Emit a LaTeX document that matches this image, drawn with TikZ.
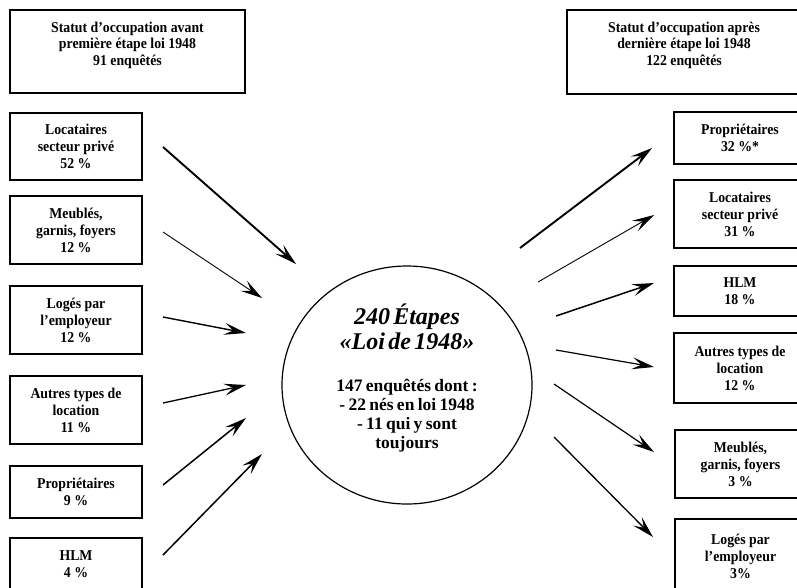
\documentclass[tikz,border=0pt]{standalone}
\usepackage{fontspec}
\setmainfont{Liberation Serif}
\newfontfamily\boxfont[FakeStretch=0.92,Ligatures=TeX]{Liberation Serif}
\usetikzlibrary{shapes.geometric,arrows.meta}
\begin{document}
\begin{tikzpicture}[x=1pt,y=-1pt,
  box/.style={draw, line width=1.1pt, inner sep=0pt, align=center,
    font=\boxfont\bfseries\fontsize{15}{17}\selectfont},
  boxtext/.style={inner sep=0pt, align=center,
    font=\boxfont\bfseries\fontsize{15}{16.5}\selectfont},
  arr/.style={-{Stealth[length=22pt,width=12pt,inset=9pt]}, line width=1.3pt},
  thickarr/.style={arr, line width=1.9pt},
  thinarr/.style={arr, line width=0.9pt}]
\clip (0,0) rectangle (797,587);

% header boxes
\node[box, minimum width=235pt, minimum height=83pt] (L0) at (127.5,51.5) {};
\node[boxtext, anchor=north] (L0t) at (127.5,21.5) {Statut d'occupation avant\\première étape loi 1948\\91 enquêtés};
\node[box, minimum width=238pt, minimum height=84pt] (R0) at (686,52) {};
\node[boxtext, anchor=north] (R0t) at (684,21.5) {Statut d'occupation après\\dernière étape loi 1948\\122 enquêtés};

% left boxes
\node[box, minimum width=132pt, minimum height=67pt] (L1) at (76,146.5) {Locataires\\secteur privé\\52 \%};
\node[box, minimum width=132pt, minimum height=68pt] (L2) at (76,230) {Meublés,\\garnis, foyers\\12 \%};
\node[box, minimum width=132pt, minimum height=68pt] (L3) at (76,320) {Logés par\\l'employeur\\12 \%};
\node[box, minimum width=132pt, minimum height=68pt] (L4) at (76,410) {Autres types de\\location\\11 \%};
\node[box, minimum width=132pt, minimum height=52pt] (L5) at (76,492) {Propriétaires\\9 \%};
\node[box, minimum width=132pt, minimum height=52pt] (L6) at (76,564) {HLM\\4 \%};

% right boxes
\node[box, minimum width=132pt, minimum height=52pt] (R1) at (740,138) {Propriétaires\\32 \%*};
\node[box, minimum width=132pt, minimum height=68pt] (R2) at (740,214) {Locataires\\secteur privé\\31 \%};
\node[box, minimum width=132pt, minimum height=50pt] (R3) at (740,291) {HLM\\18 \%};
\node[box, minimum width=132pt, minimum height=70pt] (R4) at (740,368) {Autres types de\\location\\12 \%};
\node[box, minimum width=131pt, minimum height=68pt] (R5) at (740.5,464) {Meublés,\\garnis, foyers\\3 \%};
\node[box, minimum width=131pt, minimum height=74pt] (R6) at (740.5,556) {Logés par\\l'employeur\\3\%};

% centre
\node[ellipse, draw, line width=1.2pt, minimum width=250pt, minimum height=238pt, inner sep=0pt] (C) at (407,385) {};
\node[inner sep=0pt, text width=220pt, align=center, anchor=north, font=\bfseries] (Ct) at (407,304)
 {\fontsize{24}{25}\selectfont\itshape 240 Étapes\\«Loi de 1948»\par
  \vspace{23pt}\fontsize{17.5}{19}\selectfont\upshape 147 enquêtés dont :\\- 22 nés en loi 1948\\- 11 qui y sont\\toujours\par};

% arrow end points
\coordinate (a1s) at (163,147); \coordinate (a1e) at (296,264);
\coordinate (a2s) at (163,232); \coordinate (a2e) at (262,298);
\coordinate (a3s) at (163,317); \coordinate (a3e) at (246,333);
\coordinate (a4s) at (163,403); \coordinate (a4e) at (246,385);
\coordinate (a5s) at (163,485); \coordinate (a5e) at (246,418);
\coordinate (a6s) at (163,555); \coordinate (a6e) at (262,454);
\coordinate (b1s) at (520,248); \coordinate (b1e) at (652,148);
\coordinate (b2s) at (538,282); \coordinate (b2e) at (654,215);
\coordinate (b3s) at (556,316); \coordinate (b3e) at (654,283);
\coordinate (b4s) at (556,350); \coordinate (b4e) at (654,367);
\coordinate (b5s) at (554,384); \coordinate (b5e) at (654,452);
\coordinate (b6s) at (554,437); \coordinate (b6e) at (653,537);

\draw[thickarr] (a1s) -- (a1e);
\draw[thinarr] (a2s) -- (a2e);
\draw[arr, line width=1.4pt] (a3s) -- (a3e);
\draw[arr] (a4s) -- (a4e);
\draw[arr, line width=1.5pt] (a5s) -- (a5e);
\draw[arr, line width=1.5pt] (a6s) -- (a6e);
\draw[thickarr] (b1s) -- (b1e);
\draw[thinarr] (b2s) -- (b2e);
\draw[arr, line width=1.5pt] (b3s) -- (b3e);
\draw[arr, line width=1.2pt] (b4s) -- (b4e);
\draw[arr, line width=1.2pt] (b5s) -- (b5e);
\draw[arr, line width=1.3pt] (b6s) -- (b6e);
\end{tikzpicture}
\end{document}
